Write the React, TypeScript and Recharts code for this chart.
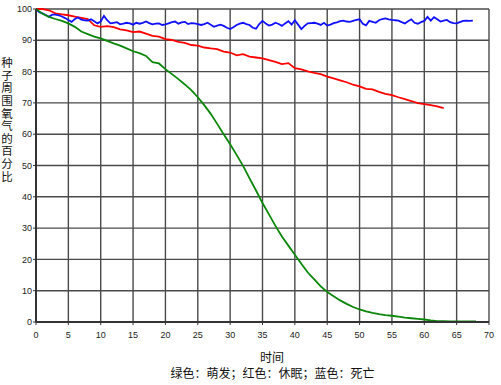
import React from "react";
import { LineChart, Line, XAxis, YAxis, CartesianGrid } from "recharts";

const xTicks = [0, 5, 10, 15, 20, 25, 30, 35, 40, 45, 50, 55, 60, 65, 70];
const yTicks = [0, 10, 20, 30, 40, 50, 60, 70, 80, 90, 100];
const yTitle = "种子周围氧气的百分比";
const xTitle = "时间";
const caption = "绿色：萌发；红色：休眠；蓝色：死亡";

// green: germinating, one value per time unit (0..68)
const greenValues = [
  100, 98.5, 97.5, 96.8, 96.2, 95.4, 94.3, 92.8, 92, 91.2,
  90.6, 89.8, 89, 88.3, 87.4, 86.5, 85.9, 85, 83, 82.6,
  80.8, 79.2, 77.6, 75.9, 74.1, 71.8, 69.3, 66.5, 63.3, 60,
  56.8, 53.4, 49.9, 45.9, 42, 38, 34.4, 30.7, 27.3, 24.4,
  21.5, 18.6, 15.8, 13.6, 11.4, 9.6, 8.2, 6.9, 5.8, 4.8,
  4, 3.4, 2.9, 2.5, 2.2, 2, 1.7, 1.4, 1.2, 1,
  0.8, 0.5, 0.3, 0.3, 0.2, 0.2, 0.2, 0.2, 0.2,
];

// red: dormant, one value per time unit (0..63)
const redValues = [
  100, 100, 99.6, 98.6, 98.3, 98, 97.6, 97.2, 96.8, 94.8,
  94.3, 94.5, 94.2, 93.5, 93.2, 92.6, 92.8, 92.1, 91.4, 91.2,
  90.4, 90.1, 89.5, 89.2, 88.5, 88.3, 87.7, 87.4, 87.2, 86.4,
  86.1, 85.2, 85.6, 84.8, 84.5, 84.2, 83.7, 83.1, 82.4, 82.7,
  81.1, 80.7, 80.1, 79.6, 79.2, 78.4, 77.8, 77.2, 76.6, 75.8,
  75.3, 74.5, 74.3, 73.5, 72.9, 72.5, 71.8, 71.2, 70.6, 69.9,
  69.6, 69.3, 68.9, 68.3,
];

// blue: dead, one value per half time unit (0..67.5)
const blueValues = [
  100, 99.0, 98.6, 98.1, 97.5, 98.2, 98.2, 98.0, 97.6, 97.1,
  96.5, 95.9, 96.8, 97.3, 96.6, 96.4, 96.3, 96.7, 96.1, 95.4,
  96.0, 97.8, 96.4, 95.4, 95.6, 95.8, 95.1, 95.3, 95.6, 95.4,
  95.0, 95.6, 95.3, 95.6, 96.0, 95.5, 95.1, 95.3, 95.4, 94.9,
  95.1, 95.4, 95.8, 96.0, 95.3, 95.7, 95.9, 95.2, 95.5, 95.4,
  95.2, 94.9, 95.2, 95.6, 95.0, 94.3, 94.7, 95.0, 94.6, 94.0,
  93.6, 94.2, 94.9, 95.3, 95.6, 95.2, 94.9, 94.0, 93.7, 95.2,
  96.2, 95.4, 94.7, 95.0, 95.6, 95.2, 94.6, 95.4, 96.1, 95.0,
  96.4, 95.0, 93.6, 94.6, 95.4, 95.5, 95.6, 95.3, 94.9, 95.6,
  94.7, 95.0, 95.5, 95.7, 96.1, 96.3, 96.0, 95.9, 96.2, 96.5,
  96.7, 95.3, 94.8, 96.2, 95.9, 95.6, 96.4, 96.8, 97.0, 96.7,
  96.5, 96.4, 96.3, 95.8, 95.4, 96.1, 96.7, 95.6, 95.3, 95.8,
  96.2, 97.5, 96.3, 97.4, 96.7, 96.0, 96.3, 96.5, 95.8, 95.5,
  95.4, 95.8, 96.2, 96.3, 96.2, 96.3,
];

const greenData = greenValues.map((v, i) => ({ t: i, v }));
const redData = redValues.map((v, i) => ({ t: i, v }));
const blueData = blueValues.map((v, i) => ({ t: i * 0.5, v }));

const tickFont = { fontFamily: "Liberation Sans, Arial, sans-serif", fontSize: 9, fill: "#222" };
const cjkFont = "'Noto Sans CJK SC', sans-serif";

export default function App() {
  return (
    <div style={{ position: "absolute", left: 0, top: 0, width: 501, height: 385, background: "#fff" }}>
      <LineChart width={501} height={385} margin={{ top: 9, right: 12, bottom: 43, left: 6 }}>
        <CartesianGrid stroke="#4a4a4a" strokeWidth={1.4} />
        <XAxis
          dataKey="t"
          type="number"
          domain={[0, 70]}
          ticks={xTicks}
          interval={0}
          height={20}
          tick={tickFont}
          tickSize={3}
          tickMargin={7}
          axisLine={{ stroke: "#333", strokeWidth: 2 }}
          tickLine={{ stroke: "#333" }}
          allowDataOverflow
        />
        <YAxis
          type="number"
          domain={[0, 100]}
          ticks={yTicks}
          interval={0}
          width={30}
          tick={tickFont}
          tickSize={3}
          tickMargin={1}
          axisLine={{ stroke: "#333", strokeWidth: 2 }}
          tickLine={{ stroke: "#333" }}
        />
        <Line data={redData} dataKey="v" type="linear" stroke="#ff0000" strokeWidth={1.8} dot={false} isAnimationActive={false} />
        <Line data={blueData} dataKey="v" type="linear" stroke="#1010ff" strokeWidth={1.8} dot={false} isAnimationActive={false} />
        <Line data={greenData} dataKey="v" type="linear" stroke="#0a870a" strokeWidth={1.8} dot={false} isAnimationActive={false} />
        <text
          x={7}
          y={57}
          fontFamily={cjkFont}
          fontSize={11.5}
          fill="#111"
          style={{ writingMode: "vertical-rl", letterSpacing: 1.1 }}
        >
          {yTitle}
        </text>
        <text x={272} y={362} textAnchor="middle" fontFamily={cjkFont} fontSize={12} fill="#111">
          {xTitle}
        </text>
        <text x={272.5} y={378} textAnchor="middle" fontFamily={cjkFont} fontSize={12} fill="#111">
          {caption}
        </text>
      </LineChart>
    </div>
  );
}
